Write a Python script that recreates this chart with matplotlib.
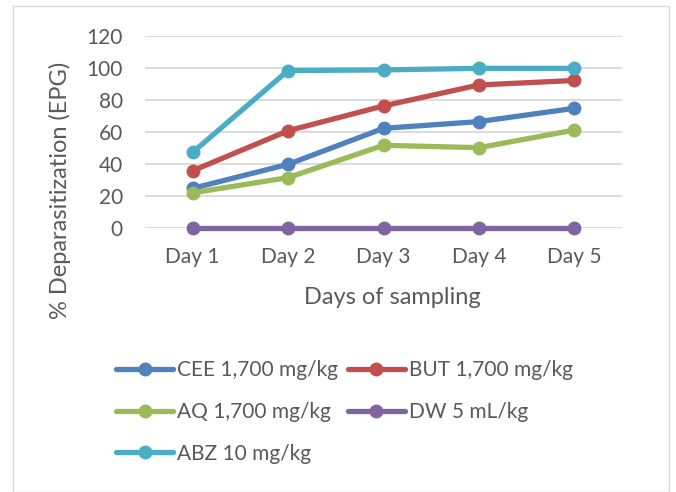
import matplotlib
matplotlib.use("Agg")
import matplotlib.pyplot as plt
from matplotlib.patches import Rectangle

days = ["Day 1", "Day 2", "Day 3", "Day 4", "Day 5"]
cee = [24.8, 39.8, 62.3, 66.5, 74.8]
but = [35.8, 60.8, 76.3, 89.4, 92.2]
aq = [22.0, 31.5, 51.7, 50.2, 61.2]
dw = [0, 0, 0, 0, 0]
abz = [47.3, 98.4, 98.8, 99.8, 99.8]

series = [
    ("CEE 1,700 mg/kg", cee, "#4F81BD"),
    ("BUT 1,700 mg/kg", but, "#C0504D"),
    ("AQ 1,700 mg/kg", aq, "#9BBB59"),
    ("DW 5 mL/kg", dw, "#8064A2"),
    ("ABZ 10 mg/kg", abz, "#4BACC6"),
]

plt.rcParams['font.family'] = ['Lato', 'DejaVu Sans']
txt = "#595959"
W, H = 676, 492
fig = plt.figure(figsize=(W / 100, H / 100), dpi=100)
ax = fig.add_axes([145 / W, 1 - 228 / H, 477 / W, 192 / H])

x = list(range(len(days)))
handles = {}
for name, vals, col in series:
    h, = ax.plot(x, vals, color=col, lw=3.8, marker="o", ms=9,
                 solid_capstyle="round", label=name, zorder=3)
    handles[name] = h

ax.set_xlim(-0.5, 4.5)
ax.set_ylim(0, 120)
ax.set_yticks(range(0, 121, 20))
ax.set_xticks(x)
ax.set_xticklabels(days)
for s in ax.spines.values():
    s.set_visible(False)
ax.grid(axis="y", color="#d9d9d9", lw=1.3, zorder=0)
ax.tick_params(length=0, labelsize=15, colors=txt, pad=14)
ax.tick_params(axis="y", pad=16)
for l in ax.get_lines():
    l.set_clip_on(False)

fig.text(392 / W, 1 - 298 / H, "Days of sampling", ha="center", va="center",
         fontsize=17, color=txt)
fig.text(60 / W, 1 - 190 / H, "% Deparasitization (EPG)", ha="center", va="center",
         rotation=90, fontsize=17, color=txt)

order = ["CEE 1,700 mg/kg", "AQ 1,700 mg/kg", "ABZ 10 mg/kg",
         "BUT 1,700 mg/kg", "DW 5 mL/kg"]
leg = fig.legend([handles[n] for n in order], order, ncol=2,
                 loc="upper left", bbox_to_anchor=(116 / W, 1 - 360 / H),
                 frameon=False, fontsize=15, labelcolor=txt,
                 handlelength=2.75, handletextpad=0.2, columnspacing=0.45,
                 labelspacing=1.05, borderaxespad=0, borderpad=0)

fig.patches.append(Rectangle((13 / W, 0), (669 - 13) / W, 1 - 6 / H,
                             transform=fig.transFigure, fill=False,
                             ec="#d9d9d9", lw=1.0))
fig.savefig("out.png", dpi=100)
